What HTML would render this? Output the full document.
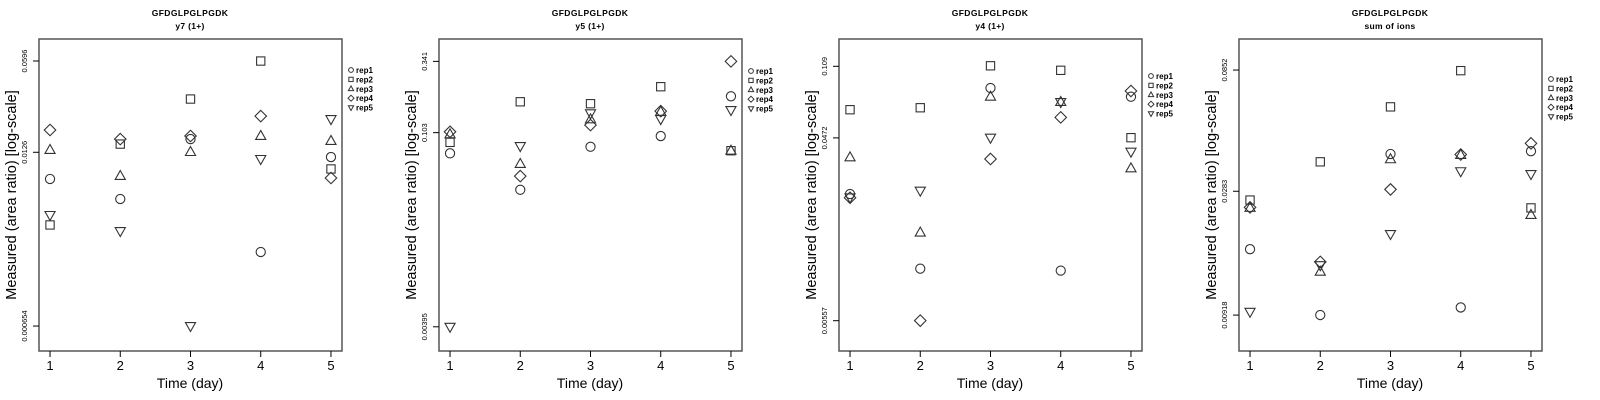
<!DOCTYPE html>
<html><head><meta charset="utf-8"><style>
html,body{margin:0;padding:0;background:#fff;width:1600px;height:400px;overflow:hidden}
svg{display:block;font-family:"Liberation Sans",sans-serif}
</style></head><body>
<svg id="chart" width="1600" height="400" viewBox="0 0 1600 400"></svg>
<script>
// ---- data (log10 of measured area ratio) ----
const days = [1, 2, 3, 4, 5];
const seriesNames = ["rep1", "rep2", "rep3", "rep4", "rep5"];
const panelTitles = ["y7 (1+)", "y5 (1+)", "y4 (1+)", "sum of ions"];
const peptide = "GFDGLPGLPGDK";
const p1Rep1 = [-2.097, -2.245, -1.802, -2.637, -1.935];
const p1Rep2 = [-2.437, -1.839, -1.506, -1.225, -2.023];
const p1Rep3 = [-1.883, -2.075, -1.898, -1.779, -1.816];
const p1Rep4 = [-1.735, -1.802, -1.779, -1.632, -2.090];
const p1Rep5 = [-2.363, -2.482, -3.184, -1.949, -1.654];
const p2Rep1 = [-1.138, -1.404, -1.090, -1.012, -0.722];
const p2Rep2 = [-1.058, -0.762, -0.776, -0.652, -1.119];
const p2Rep3 = [-1.000, -1.216, -0.890, -0.835, -1.119];
const p2Rep4 = [-0.981, -1.304, -0.932, -0.830, -0.467];
const p2Rep5 = [-2.403, -1.085, -0.846, -0.888, -0.822];
const p3Rep1 = [-1.611, -1.990, -1.073, -2.000, -1.117];
const p3Rep2 = [-1.183, -1.173, -0.960, -0.983, -1.325];
const p3Rep3 = [-1.425, -1.807, -1.117, -1.144, -1.481];
const p3Rep4 = [-1.630, -2.254, -1.433, -1.222, -1.088];
const p3Rep5 = [-1.628, -1.594, -1.325, -1.144, -1.396];
const p4Rep1 = [-1.777, -2.037, -1.401, -2.007, -1.390];
const p4Rep2 = [-1.583, -1.432, -1.215, -1.072, -1.614];
const p4Rep3 = [-1.614, -1.866, -1.422, -1.405, -1.642];
const p4Rep4 = [-1.612, -1.827, -1.541, -1.403, -1.359];
const p4Rep5 = [-2.024, -1.840, -1.717, -1.469, -1.480];
const p1Ticks = ["0.000654", "0.0126", "0.0596"];
const p2Ticks = ["0.00395", "0.103", "0.341"];
const p3Ticks = ["0.00557", "0.0472", "0.109"];
const p4Ticks = ["0.00918", "0.0283", "0.0852"];
const p1Domain = [-3.369, -1.062];
const p2Domain = [-2.580, -0.304];
const p3Domain = [-2.408, -0.824];
const p4Domain = [-2.179, -0.947];
const xDomain = [0.843, 5.157];

const panels = [
  {series:[p1Rep1,p1Rep2,p1Rep3,p1Rep4,p1Rep5], ticks:p1Ticks, dom:p1Domain, legY:70},
  {series:[p2Rep1,p2Rep2,p2Rep3,p2Rep4,p2Rep5], ticks:p2Ticks, dom:p2Domain, legY:71},
  {series:[p3Rep1,p3Rep2,p3Rep3,p3Rep4,p3Rep5], ticks:p3Ticks, dom:p3Domain, legY:76},
  {series:[p4Rep1,p4Rep2,p4Rep3,p4Rep4,p4Rep5], ticks:p4Ticks, dom:p4Domain, legY:79}
];

const NS = "http://www.w3.org/2000/svg";
const svg = document.getElementById("chart");
function mk(tag, attrs, parent, text) {
  const e = document.createElementNS(NS, tag);
  for (const k in attrs) e.setAttribute(k, attrs[k]);
  if (text !== undefined) e.textContent = text;
  parent.appendChild(e);
  return e;
}
function marker(g, shape, cx, cy, s, sw) {
  let e;
  if (shape === 0) e = mk("circle", {cx:cx, cy:cy, r:s}, g);
  else if (shape === 1) e = mk("rect", {x:cx-s*0.9, y:cy-s*0.9, width:s*1.8, height:s*1.8}, g);
  else if (shape === 2) e = mk("polygon", {points:`${cx},${cy-s*1.2} ${cx+s*1.1},${cy+s*0.75} ${cx-s*1.1},${cy+s*0.75}`}, g);
  else if (shape === 3) e = mk("polygon", {points:`${cx},${cy-s*1.25} ${cx+s*1.25},${cy} ${cx},${cy+s*1.25} ${cx-s*1.25},${cy}`}, g);
  else e = mk("polygon", {points:`${cx},${cy+s*1.2} ${cx+s*1.1},${cy-s*0.75} ${cx-s*1.1},${cy-s*0.75}`}, g);
  e.setAttribute("fill", "none");
  e.setAttribute("stroke", "#333");
  e.setAttribute("stroke-width", sw);
  return e;
}

panels.forEach((p, pi) => {
  const ox = pi * 400;
  const L = ox + 39, R = ox + 342, T = 39, B = 351;
  const xs = d => L + (d - xDomain[0]) / (xDomain[1] - xDomain[0]) * (R - L);
  const ys = v => B - (v - p.dom[0]) / (p.dom[1] - p.dom[0]) * (B - T);
  const g = mk("g", {}, svg);
  
  

  const t1 = mk("text", {x:ox+190, y:16, "text-anchor":"middle", "font-size":"8.5", "font-weight":"bold", "letter-spacing":"0.4", fill:"#000"}, g, peptide);
  
  
  const t2 = mk("text", {x:ox+190, y:29, "text-anchor":"middle", "font-size":"8.5", "font-weight":"bold", "letter-spacing":"0.3", fill:"#000"}, g, panelTitles[pi]);
  
  

  const box = mk("rect", {x:L, y:T, width:R-L, height:B-T, fill:"none", stroke:"#555", "stroke-width":"1.5"}, g);
  
  

  days.forEach(d => {
    const x = xs(d);
    mk("line", {x1:x, y1:B, x2:x, y2:B+6, stroke:"#000", "stroke-width":"1"}, g);
    const tl = mk("text", {x:x, y:370, "text-anchor":"middle", "font-size":"13", fill:"#000"}, g, String(d));
    
    
  });
  const xt = mk("text", {x:ox+190, y:388, "text-anchor":"middle", "font-size":"14", fill:"#000"}, g, "Time (day)");
  
  

  p.ticks.forEach(s => {
    const y = ys(Math.log10(parseFloat(s)));
    mk("line", {x1:L-6, y1:y, x2:L, y2:y, stroke:"#000", "stroke-width":"1"}, g);
    const tl = mk("text", {x:0, y:0, "text-anchor":"middle", "font-size":"7.5", fill:"#000",
      transform:`translate(${ox+27},${y}) rotate(-90)`}, g, s);
    
    
  });
  const yt = mk("text", {x:0, y:0, "text-anchor":"middle", "font-size":"14.5", fill:"#000",
    transform:`translate(${ox+16},195) rotate(-90)`}, g, "Measured (area ratio) [log-scale]");
  
  

  p.series.forEach((vals, si) => {
    vals.forEach((v, di) => {
      const m = marker(g, si, xs(days[di]), ys(v), 4.6, 1.1);
      
      
    });
  });

  seriesNames.forEach((n, si) => {
    const y = p.legY + si * 9.4;
    const m = marker(g, si, ox + 351, y, 2.4, 1);
    
    
    const lt = mk("text", {x:ox+356, y:y+3, "font-size":"8", "font-weight":"bold", fill:"#000"}, g, n);
    
    
  });
});
</script>
</body></html>
